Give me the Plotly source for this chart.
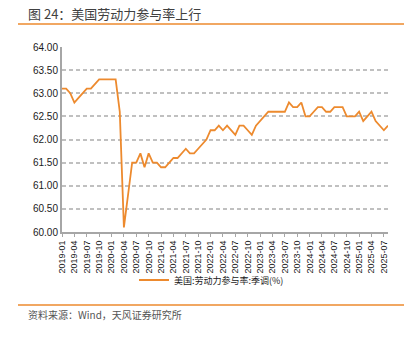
import plotly.graph_objects as go

# US labour force participation rate, seasonally adjusted (%), monthly 2019-01 .. 2025-08
months = [f"{y}-{m:02d}" for y in range(2019, 2026) for m in range(1, 13)][:80]

lfpr_2019 = [63.1, 63.1, 63.0, 62.8, 62.9, 63.0, 63.1, 63.1, 63.2, 63.3, 63.3, 63.3]
lfpr_2020 = [63.3, 63.3, 62.6, 60.1, 60.8, 61.5, 61.5, 61.7, 61.4, 61.7, 61.5, 61.5]
lfpr_2021 = [61.4, 61.4, 61.5, 61.6, 61.6, 61.7, 61.8, 61.7, 61.7, 61.8, 61.9, 62.0]
lfpr_2022 = [62.2, 62.2, 62.3, 62.2, 62.3, 62.2, 62.1, 62.3, 62.3, 62.2, 62.1, 62.3]
lfpr_2023 = [62.4, 62.5, 62.6, 62.6, 62.6, 62.6, 62.6, 62.8, 62.7, 62.7, 62.8, 62.5]
lfpr_2024 = [62.5, 62.6, 62.7, 62.7, 62.6, 62.6, 62.7, 62.7, 62.7, 62.5, 62.5, 62.5]
lfpr_2025 = [62.6, 62.4, 62.5, 62.6, 62.4, 62.3, 62.2, 62.3]

lfpr = lfpr_2019 + lfpr_2020 + lfpr_2021 + lfpr_2022 + lfpr_2023 + lfpr_2024 + lfpr_2025

x_ticks = months[::3]
y_ticks = [60.0, 60.5, 61.0, 61.5, 62.0, 62.5, 63.0, 63.5, 64.0]
y_tick_text = [f"{v:.2f}" for v in y_ticks]

title_text = "图 24：美国劳动力参与率上行"
series_name = "美国:劳动力参与率:季调(%)"
source_text = "资料来源：Wind，天风证券研究所"

ORANGE = "#ED8A2E"
CJK = "Noto Sans CJK SC"
LATIN = "Liberation Sans, Arial, sans-serif"

W, H = 412, 337
L, R, T, B = 62, 24, 47, 105
pw, ph = W - L - R, H - T - B


def px(x):
    return (x - L) / pw


def py(y):
    return (H - B - y) / ph


fig = go.Figure()
fig.add_trace(go.Scatter(
    x=months, y=lfpr, mode="lines", name=series_name,
    line=dict(color=ORANGE, width=1.8),
))

fig.update_layout(
    width=W, height=H,
    margin=dict(l=L, r=R, t=T, b=B),
    paper_bgcolor="white", plot_bgcolor="white",
    showlegend=True,
    legend=dict(
        orientation="h", x=px(134), xanchor="left", y=py(280), yanchor="middle",
        font=dict(family=CJK, size=9, color="#1a1a1a"),
        bgcolor="rgba(0,0,0,0)", itemwidth=30,
    ),
    xaxis=dict(
        type="category", range=[0, len(months) - 1],
        tickmode="array", tickvals=x_ticks, ticktext=x_ticks,
        tickangle=-90, tickfont=dict(family=LATIN, size=9, color="#1a1a1a"),
        showgrid=False, showline=True, linecolor="#a6a6a6", linewidth=2,
        ticks="outside", ticklen=3, tickcolor="#a6a6a6", tickwidth=1,
        zeroline=False,
    ),
    yaxis=dict(
        range=[60, 64], tickmode="array", tickvals=y_ticks, ticktext=y_tick_text,
        tickfont=dict(family=LATIN, size=10, color="#1a1a1a"),
        showgrid=True, gridcolor="#c0c0c0", gridwidth=1.5, griddash="4px,3px",
        showline=True, linecolor="#a6a6a6", linewidth=2,
        ticks="", zeroline=False,
    ),
)

# title, rules and source note
fig.add_annotation(
    x=px(26), y=py(13), xref="paper", yref="paper", xanchor="left", yanchor="middle",
    text=title_text, showarrow=False,
    font=dict(family=CJK, size=13, color="#404040"),
)
fig.add_shape(type="line", xref="paper", yref="paper",
              x0=px(18), x1=px(404), y0=py(24), y1=py(24),
              line=dict(color=ORANGE, width=1.5))
fig.add_shape(type="line", xref="paper", yref="paper",
              x0=px(18), x1=px(404), y0=py(305), y1=py(305),
              line=dict(color=ORANGE, width=1.5))
fig.add_annotation(
    x=px(26), y=py(314), xref="paper", yref="paper", xanchor="left", yanchor="middle",
    text=source_text, showarrow=False,
    font=dict(family=CJK, size=10, color="#555"),
)

fig.write_html("out.html")
